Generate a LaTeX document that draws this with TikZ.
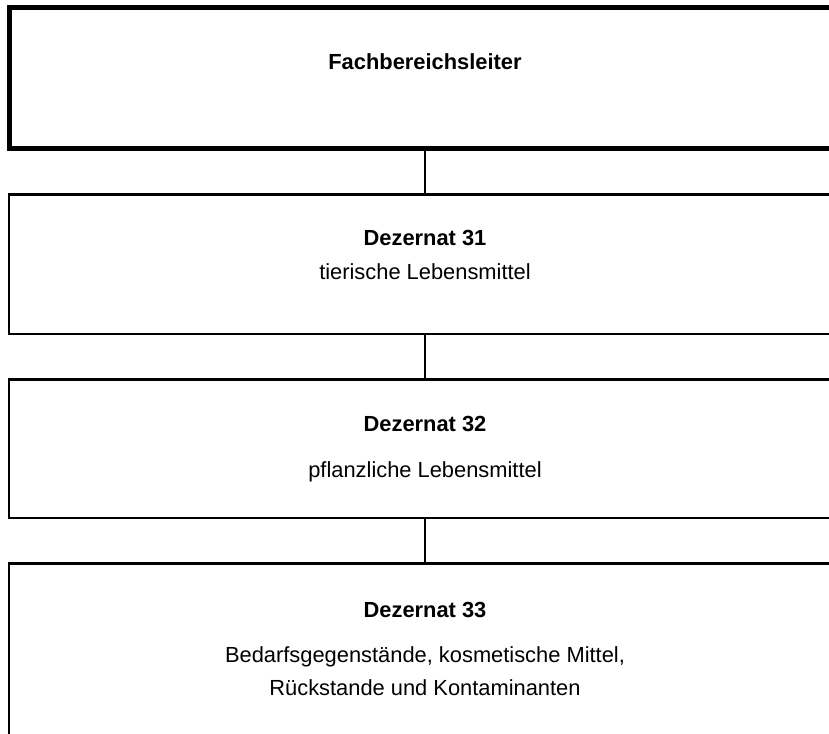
\documentclass[tikz,border=0pt]{standalone}
\usepackage{fontspec}
\setmainfont{Liberation Sans}
\usetikzlibrary{positioning}
\newcommand{\BoxColor}{black}

\begin{document}
\begin{tikzpicture}[x=0.75pt,y=-0.75pt,line join=miter,
  kopf/.style={draw=\BoxColor,line width=3.75pt,minimum width=623.6pt,minimum height=106.1pt,inner sep=0pt},
  dezernat/.style={draw=\BoxColor,line width=2.2pt,minimum width=624pt,inner sep=0pt},
  titel/.style={font=\fontsize{16.4}{24.75}\selectfont\bfseries,anchor=base},
  info/.style={font=\fontsize{16.4}{24.75}\selectfont,anchor=base,align=center},
  linie/.style={draw=\BoxColor,line width=2.2pt}]
  \useasboundingbox (0,0) rectangle (829,733);
  \clip (0,0) rectangle (829,733);
  % boxes
  \node[kopf] (fbl) at (425,78.25) {};
  \node[dezernat,minimum height=104.6pt] (d31) at (425,264.25) {};
  \node[dezernat,minimum height=103.9pt] (d32) at (425,448.75) {};
  \node[dezernat,minimum height=150pt] (d33) at (425,663.5) {};
  % texts
  \node[titel] (tfbl) at (425,69) {Fachbereichsleiter};
  \node[titel] (t31) at (425,245) {Dezernat 31};
  \node[info] (i31) at (425,279) {tierische Lebensmittel};
  \node[titel] (t32) at (425,431) {Dezernat 32};
  \node[info] (i32) at (425,477) {pflanzliche Lebensmittel};
  \node[titel] (t33) at (425,617) {Dezernat 33};
  \node[info] (i33) at (425,695) {Bedarfsgegenstände, kosmetische Mittel,\\Rückstande und Kontaminanten};
  % connectors
  \draw[linie] (fbl.south) -- (d31.north);
  \draw[linie] (d31.south) -- (d32.north);
  \draw[linie] (d32.south) -- (d33.north);
\end{tikzpicture}
\end{document}
